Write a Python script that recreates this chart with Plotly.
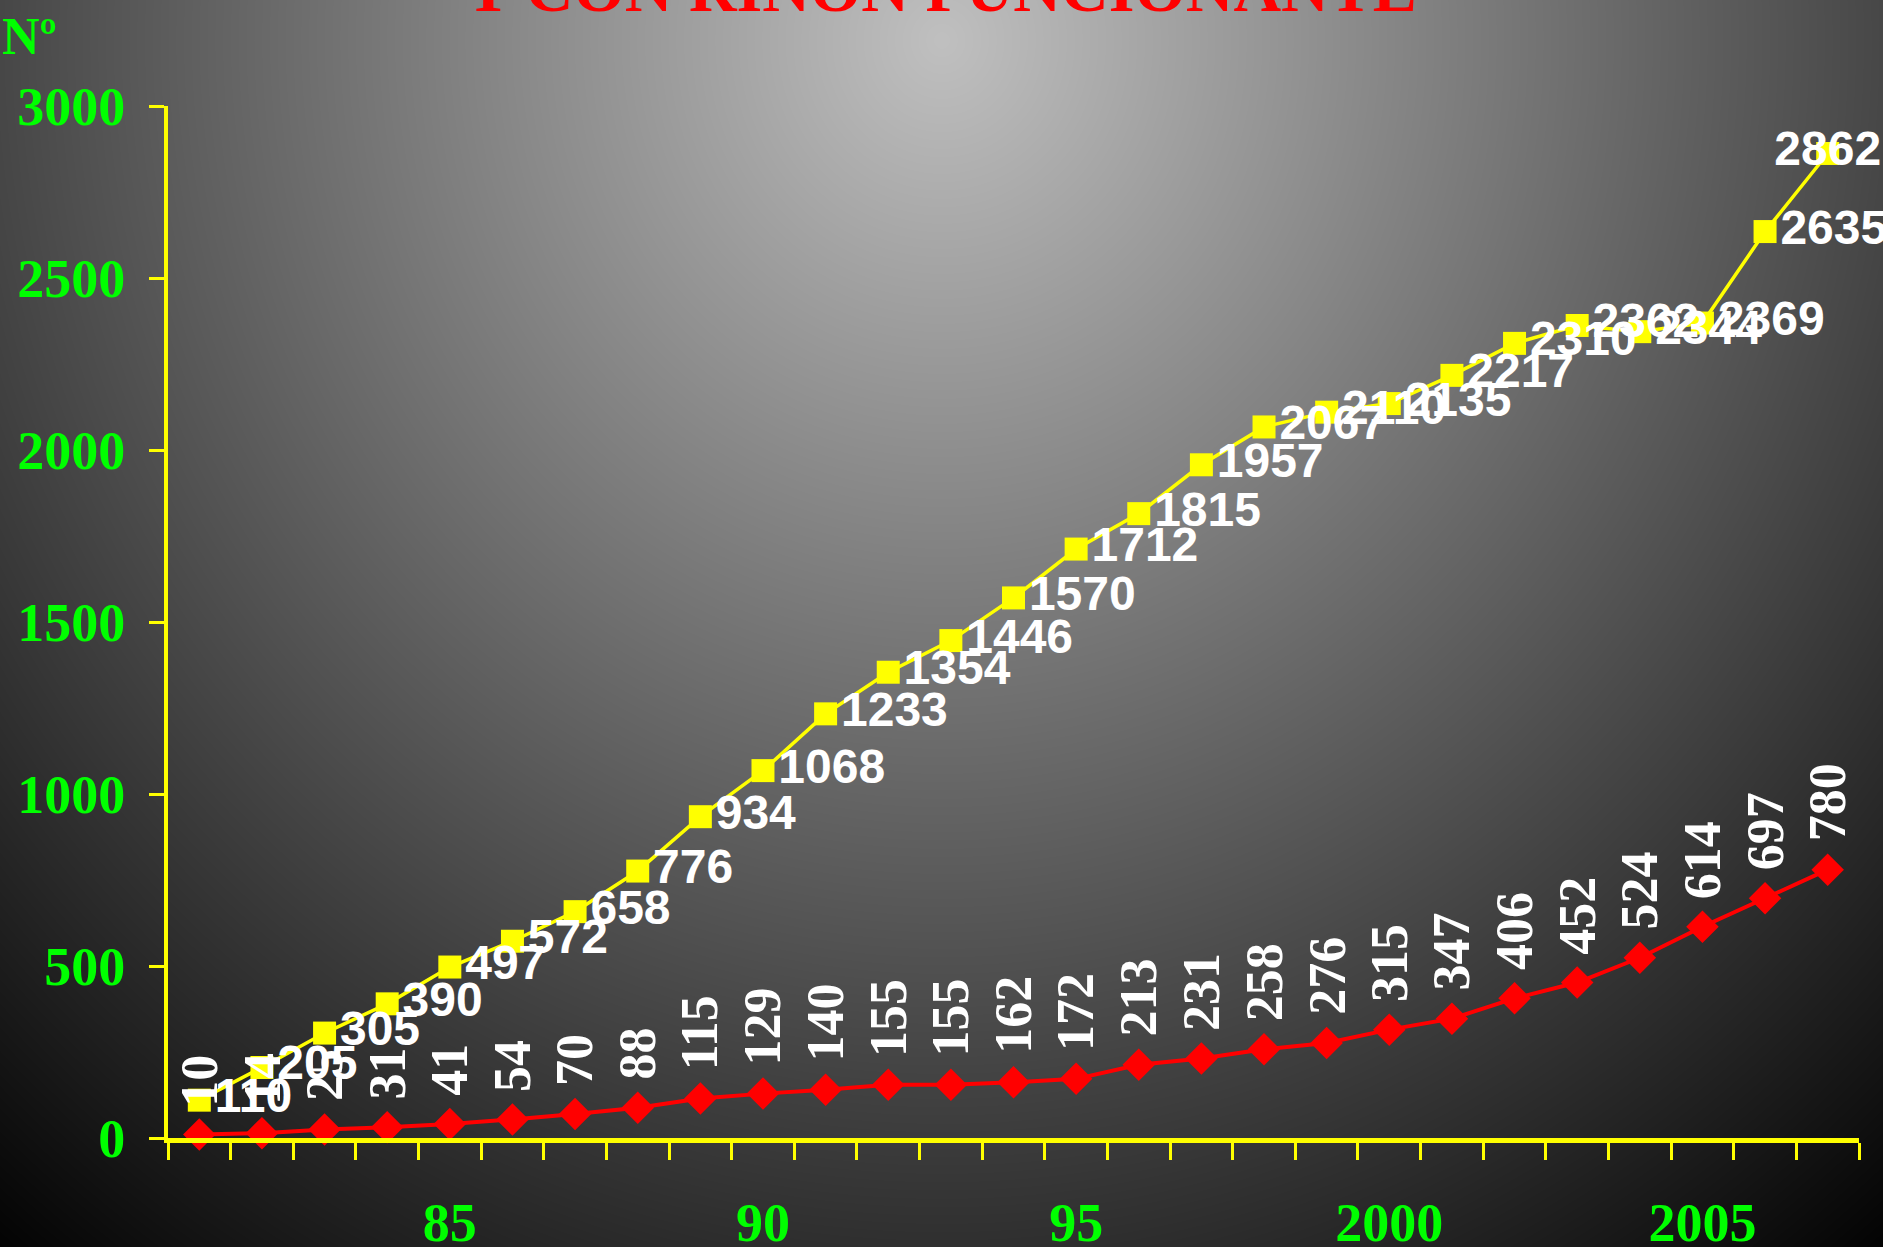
import base64, struct, zlib
import numpy as np
import plotly.graph_objects as go

# ---- data ----
years = list(range(1981, 2008))
funcionante = [110, 205, 305, 390, 497, 572, 658, 776, 934, 1068, 1233, 1354, 1446, 1570,
               1712, 1815, 1957, 2067, 2110, 2135, 2217, 2310, 2362, 2344, 2369, 2635, 2862]
red_series = [10, 14, 25, 31, 41, 54, 70, 88, 115, 129, 140, 155, 155, 162, 172, 213,
              231, 258, 276, 315, 347, 406, 452, 524, 614, 697, 780]
x_tickvals = [1985, 1990, 1995, 2000, 2005]
x_ticktext = ["85", "90", "95", "2000", "2005"]
y_tickvals = [0, 500, 1000, 1500, 2000, 2500, 3000]
title_text = "Y CON RIÑÓN FUNCIONANTE"
y_label = "Nº"

# ---- figure geometry ----
W, H = 1883, 1247
ML, MR, MT, MB = 168, 24, 106, 109
PW, PH = W - ML - MR, H - MT - MB

# ---- radial gradient background as PNG ----
def gradient_png(w, h):
    xs = np.arange(w)[None, :]
    ys = np.arange(h)[:, None]
    d = np.sqrt(((xs - 0.5 * w) / 1500.0) ** 2 + ((ys - 40) / 1600.0) ** 2)
    val = 192.0 * (1.0 - np.clip(d, 0, 1))
    img = np.clip(val, 0, 255).astype(np.uint8)
    raw = b"".join(b"\x00" + img[r].tobytes() for r in range(h))
    def chunk(t, data):
        c = struct.pack(">I", len(data)) + t + data
        return c + struct.pack(">I", zlib.crc32(t + data) & 0xffffffff)
    png = b"\x89PNG\r\n\x1a\n" + chunk(b"IHDR", struct.pack(">IIBBBBB", w, h, 8, 0, 0, 0, 0))
    png += chunk(b"IDAT", zlib.compress(raw, 9)) + chunk(b"IEND", b"")
    return "data:image/png;base64," + base64.b64encode(png).decode()

bg = gradient_png(W, H)

YELLOW = "#FFFF00"
RED = "#FF0000"
GREEN = "#00FF00"

fig = go.Figure()

fig.add_trace(go.Scatter(
    x=years, y=funcionante, mode="lines+markers+text",
    line=dict(color=YELLOW, width=3.5),
    marker=dict(symbol="square", size=23, color=YELLOW),
    text=[str(v) for v in funcionante],
    textposition=["middle right"] * (len(years) - 1) + ["middle center"],
    textfont=dict(family="Liberation Sans, Arial", size=48, color="white", weight="bold"),
    cliponaxis=False, showlegend=False, hoverinfo="skip",
))

fig.add_trace(go.Scatter(
    x=years, y=red_series, mode="lines+markers",
    line=dict(color=RED, width=4),
    marker=dict(symbol="diamond", size=25, color=RED),
    cliponaxis=False, showlegend=False, hoverinfo="skip",
))

annotations = []
for yr, v in zip(years, red_series):
    annotations.append(dict(
        x=yr, y=v, xref="x", yref="y", text=str(v), showarrow=False,
        textangle=-90, xanchor="center", yanchor="bottom", yshift=26,
        font=dict(family="Liberation Serif, Times New Roman", size=52, color="white", weight="bold"),
    ))

annotations.append(dict(
    x=(940 - ML) / PW, y=1 + (MT + 12) / PH, xref="paper", yref="paper",
    text=title_text, showarrow=False, xanchor="center", yanchor="middle",
    font=dict(family="Liberation Serif, Times New Roman", size=66, color=RED, weight="bold"),
))
annotations.append(dict(
    x=(0 - ML) / PW, y=1 + (MT - 36) / PH, xref="paper", yref="paper",
    text=y_label, showarrow=False, xanchor="left", yanchor="middle",
    font=dict(family="Liberation Serif, Times New Roman", size=52, color=GREEN, weight="bold"),
))

fig.update_layout(
    width=W, height=H,
    margin=dict(l=ML, r=MR, t=MT, b=MB, pad=0, autoexpand=False),
    paper_bgcolor="black", plot_bgcolor="rgba(0,0,0,0)",
    images=[dict(source=bg, xref="paper", yref="paper", x=-ML / PW, y=1 + MT / PH,
                 sizex=W / PW, sizey=H / PH, sizing="stretch", xanchor="left",
                 yanchor="top", layer="below")],
    annotations=annotations,
    xaxis=dict(
        range=[1980.5, 2007.5], showgrid=False, zeroline=False, automargin=False,
        showline=True, linecolor=YELLOW, linewidth=5,
        tickmode="array", tickvals=x_tickvals, ticktext=x_ticktext,
        ticks="outside", ticklen=0, ticklabelstandoff=33,
        tickfont=dict(family="Liberation Serif, Times New Roman", size=54, color=GREEN, weight="bold"),
        minor=dict(tickmode="linear", tick0=1980.5, dtick=1, ticks="outside",
                   ticklen=17, tickwidth=3, tickcolor=YELLOW, showgrid=False),
    ),
    yaxis=dict(
        range=[0, 3000], showgrid=False, zeroline=False, automargin=False,
        showline=True, linecolor=YELLOW, linewidth=4,
        tickmode="array", tickvals=y_tickvals,
        ticks="outside", ticklen=15, tickwidth=3, tickcolor=YELLOW,
        ticklabelstandoff=13,
        tickfont=dict(family="Liberation Serif, Times New Roman", size=54, color=GREEN, weight="bold"),
    ),
)

fig.write_html(
    "out.html",
    config={"displayModeBar": False},
    post_script="document.body.style.margin='0';document.body.style.overflow='hidden';document.body.style.background='black';",
)
